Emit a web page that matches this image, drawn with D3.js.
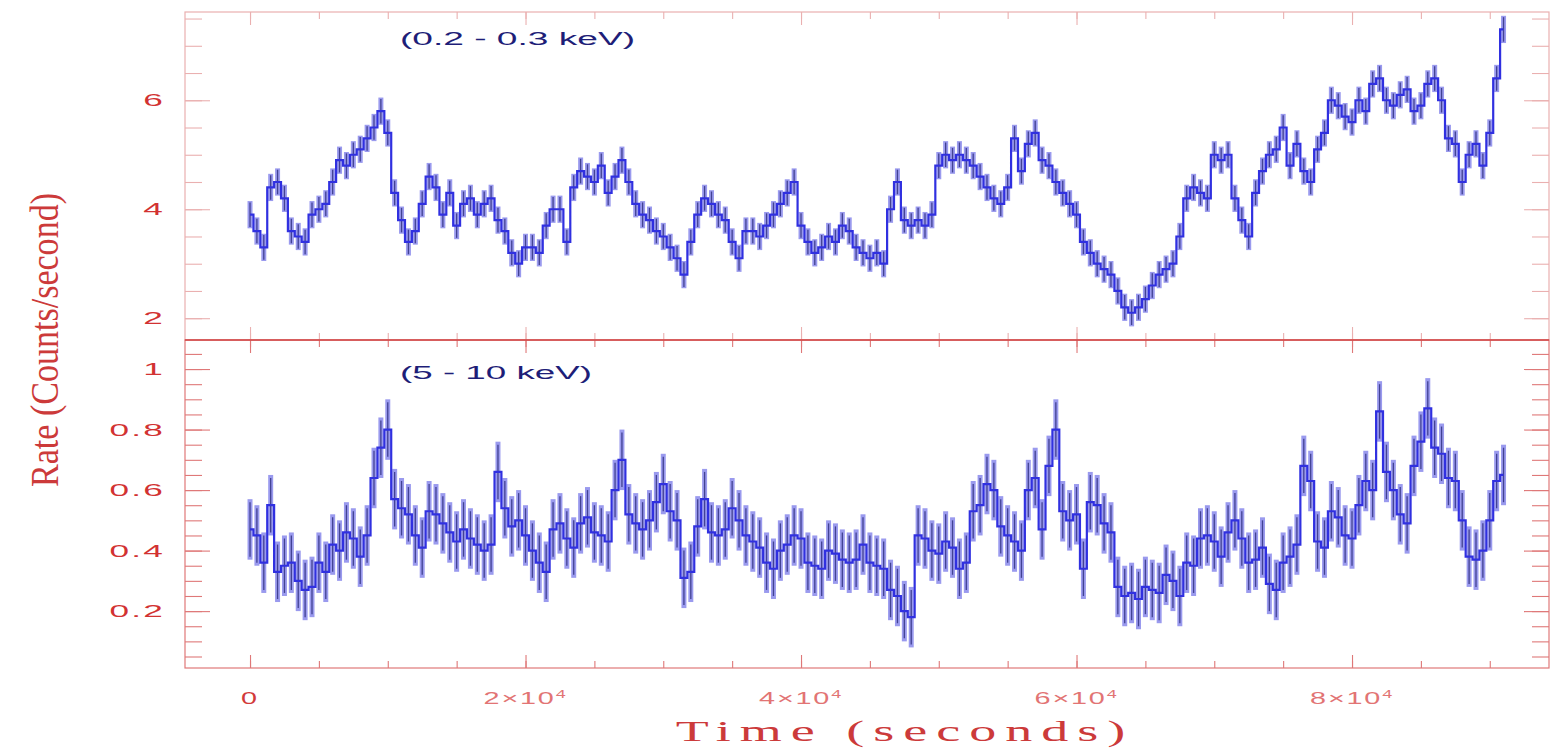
<!DOCTYPE html>
<html lang="en">
<head>
<meta charset="UTF-8">
<script src="https://d3js.org/d3.v7.min.js"></script>
<title>Light curves</title>
<style>
  body { margin: 0; background: #fff; }
  svg { display: block; }
</style>
</head>
<body>
<div id="chart"></div>
<script>
// light curve, 500 s bins starting at t = 0
const binSize = 500;

// (0.2 - 0.3 keV) rate, counts/s
const softRate = [
  3.9,3.6,3.3,4.4,4.5,4.2,3.6,3.5,3.4,3.9,
  4.0,4.1,4.5,4.9,4.8,5.0,5.1,5.3,5.5,5.8,
  5.4,4.3,3.8,3.4,3.6,4.1,4.6,4.4,3.9,4.3,
  3.7,4.1,4.2,3.9,4.1,4.2,3.8,3.6,3.2,3.0,
  3.3,3.3,3.2,3.7,4.0,4.0,3.4,4.4,4.7,4.6,
  4.5,4.8,4.3,4.6,4.9,4.5,4.1,3.9,3.8,3.6,
  3.5,3.3,3.1,2.8,3.4,3.9,4.2,4.1,3.9,3.8,
  3.4,3.1,3.6,3.6,3.5,3.7,3.9,4.1,4.3,4.5,
  3.7,3.4,3.2,3.3,3.5,3.4,3.7,3.6,3.3,3.2,
  3.1,3.2,3.0,4.0,4.5,3.8,3.7,3.8,3.7,3.9,
  4.8,5.0,4.9,5.0,4.9,4.8,4.6,4.4,4.2,4.1,
  4.4,5.3,4.7,5.2,5.4,4.9,4.8,4.5,4.3,4.1,
  3.9,3.4,3.2,3.0,2.9,2.8,2.5,2.2,2.1,2.2,
  2.35,2.6,2.8,2.9,3.0,3.5,4.2,4.4,4.3,4.2,
  5.0,4.9,5.0,4.2,3.8,3.5,4.3,4.7,5.0,5.1,
  5.5,4.8,5.2,4.7,4.5,5.1,5.4,6.0,5.9,5.7,
  5.6,6.0,5.8,6.3,6.4,6.0,5.9,6.1,6.2,5.8,
  5.9,6.3,6.4,6.0,5.3,5.2,4.5,5.0,5.2,4.8,
  5.4,6.4,7.3
];

// (5 - 10 keV) rate, counts/s
const hardRate = [
  0.47,0.45,0.36,0.55,0.33,0.35,0.36,0.30,0.27,0.28,
  0.36,0.33,0.42,0.40,0.46,0.44,0.38,0.45,0.64,0.74,
  0.80,0.57,0.54,0.52,0.45,0.41,0.53,0.52,0.49,0.46,
  0.43,0.47,0.44,0.42,0.40,0.42,0.66,0.54,0.48,0.50,
  0.45,0.40,0.36,0.33,0.47,0.49,0.44,0.41,0.49,0.51,
  0.46,0.45,0.43,0.60,0.70,0.52,0.49,0.47,0.50,0.56,
  0.62,0.53,0.50,0.31,0.33,0.48,0.57,0.46,0.45,0.47,
  0.54,0.50,0.45,0.43,0.41,0.36,0.34,0.40,0.42,0.45,
  0.44,0.36,0.35,0.34,0.40,0.39,0.37,0.36,0.37,0.42,
  0.36,0.35,0.34,0.27,0.25,0.20,0.18,0.45,0.44,0.40,
  0.39,0.43,0.41,0.34,0.36,0.53,0.55,0.62,0.60,0.48,
  0.45,0.43,0.40,0.60,0.64,0.47,0.68,0.80,0.53,0.50,
  0.52,0.34,0.56,0.55,0.49,0.46,0.28,0.25,0.26,0.24,
  0.28,0.27,0.26,0.32,0.30,0.25,0.36,0.35,0.44,0.45,
  0.43,0.38,0.46,0.50,0.44,0.36,0.37,0.41,0.29,0.27,
  0.36,0.38,0.42,0.68,0.63,0.43,0.41,0.53,0.51,0.45,
  0.44,0.55,0.63,0.60,0.86,0.66,0.60,0.52,0.49,0.68,
  0.76,0.87,0.74,0.72,0.64,0.63,0.50,0.38,0.37,0.40,
  0.50,0.63,0.65
];

// typical 1-sigma error of one bin
const softErr = 0.25;
const hardErr = 0.1;

const timeTicks = [0, 20000, 40000, 60000, 80000];
const softTicks = [2, 4, 6];
const hardTicks = [0.2, 0.4, 0.6, 0.8, 1];
const bandLabels = ["(0.2 - 0.3 keV)", "(5 - 10 keV)"];

const W = 1554, H = 748;
const frame = { left: 185, right: 1549, top: 12, mid: 340, bottom: 668 };

const svg = d3.select("#chart").append("svg")
    .attr("width", W)
    .attr("height", H);

const x = d3.scaleLinear().domain([-4720, 94300]).range([frame.left, frame.right]);
const ySoft = d3.scaleLinear().domain([1.6, 7.62]).range([frame.mid, frame.top]);
const yHard = d3.scaleLinear().domain([0.012, 1.096]).range([frame.bottom, frame.mid]);

const panels = [
    { y: ySoft, rates: softRate, err: softErr, major: softTicks,
      minor: d3.range(2, 7.61, 0.5), fmt: d3.format("d"),
      top: frame.top, bottom: frame.mid, stroke: "#eab0b0",
      label: bandLabels[0], labelY: 45, labelW: 235 },
    { y: yHard, rates: hardRate, err: hardErr, major: hardTicks,
      minor: d3.range(0.05, 1.09, 0.05), fmt: d => d === 1 ? "1" : d3.format(".1f")(d),
      top: frame.mid, bottom: frame.bottom, stroke: "#df7878",
      label: bandLabels[1], labelY: 379, labelW: 192 }
];

const xMinor = d3.range(0, 94000, 5000);

panels.forEach((p, k) => {
    const g = svg.append("g");

    const clipId = "clip" + k;
    svg.append("clipPath").attr("id", clipId)
        .append("rect")
        .attr("x", frame.left).attr("y", p.top)
        .attr("width", frame.right - frame.left)
        .attr("height", p.bottom - p.top);

    const pts = p.rates.map((v, i) => ({ t: i * binSize, v: v }));
    const data = g.append("g").attr("clip-path", `url(#${clipId})`);

    // error bars: a wide pale bar and a thin dark core
    data.selectAll(".eb")
        .data(pts)
        .enter()
        .append("line")
        .attr("class", "eb")
        .attr("x1", d => x(d.t)).attr("x2", d => x(d.t))
        .attr("y1", d => p.y(d.v - p.err))
        .attr("y2", d => p.y(d.v + p.err))
        .attr("stroke", "#9a9aee")
        .attr("stroke-width", 5);

    data.selectAll(".ebd")
        .data(pts)
        .enter()
        .append("line")
        .attr("class", "ebd")
        .attr("x1", d => x(d.t)).attr("x2", d => x(d.t))
        .attr("y1", d => p.y(d.v - p.err * 0.9))
        .attr("y2", d => p.y(d.v + p.err * 0.9))
        .attr("stroke", "#1c1c6c")
        .attr("stroke-opacity", 0.7)
        .attr("stroke-width", 1.3);

    // rate as a step line
    const line = d3.line()
        .x(d => x(d.t))
        .y(d => p.y(d.v))
        .curve(d3.curveStep);

    data.append("path")
        .datum(pts)
        .attr("d", line)
        .attr("fill", "none")
        .attr("stroke", "#3030e0")
        .attr("stroke-width", 2.2);

    // frame
    g.append("rect")
        .attr("x", frame.left).attr("y", p.top)
        .attr("width", frame.right - frame.left)
        .attr("height", p.bottom - p.top)
        .attr("fill", "none")
        .attr("stroke", p.stroke)
        .attr("stroke-width", 1.2);

    // ticks, all pointing inward
    const tickAxes = [
        [d3.axisLeft(p.y).tickValues(p.minor).tickSizeInner(-17), `translate(${frame.left},0)`],
        [d3.axisLeft(p.y).tickValues(p.major).tickSizeInner(-25), `translate(${frame.left},0)`],
        [d3.axisRight(p.y).tickValues(p.minor).tickSizeInner(-17), `translate(${frame.right},0)`],
        [d3.axisRight(p.y).tickValues(p.major).tickSizeInner(-25), `translate(${frame.right},0)`],
        [d3.axisBottom(x).tickValues(xMinor).tickSizeInner(-7), `translate(0,${p.bottom})`],
        [d3.axisBottom(x).tickValues(timeTicks).tickSizeInner(-13), `translate(0,${p.bottom})`],
        [d3.axisTop(x).tickValues(xMinor).tickSizeInner(-7), `translate(0,${p.top})`],
        [d3.axisTop(x).tickValues(timeTicks).tickSizeInner(-13), `translate(0,${p.top})`]
    ];
    tickAxes.forEach(([ax, tr]) => {
        const a = g.append("g")
            .attr("transform", tr)
            .call(ax.tickSizeOuter(0).tickFormat(""));
        a.select(".domain").remove();
        a.selectAll("line").attr("stroke", p.stroke).attr("stroke-width", 1.1);
    });

    // y tick labels (horizontally stretched, like the original)
    g.selectAll(".ylab")
        .data(p.major)
        .enter()
        .append("text")
        .attr("class", "ylab")
        .attr("transform", d => `translate(165,${p.y(d) + 6}) scale(2.2,1)`)
        .attr("text-anchor", "end")
        .style("font-family", "'Liberation Sans', Arial, sans-serif")
        .style("font-size", "16px")
        .style("letter-spacing", "1px")
        .attr("fill", "#d23232")
        .text(p.fmt);

    // energy band label
    g.append("text")
        .attr("x", 400)
        .attr("y", p.labelY)
        .attr("textLength", p.labelW)
        .attr("lengthAdjust", "spacingAndGlyphs")
        .style("font-family", "'Liberation Sans', Arial, sans-serif")
        .style("font-size", "18px")
        .attr("fill", "#1e1e78")
        .text(p.label);
});

// middle separator drawn darker
svg.append("line")
    .attr("x1", frame.left).attr("x2", frame.right)
    .attr("y1", frame.mid).attr("y2", frame.mid)
    .attr("stroke", "#d24848")
    .attr("stroke-width", 1.4);

// x tick labels
const xlab = svg.selectAll(".xlab")
    .data(timeTicks)
    .enter()
    .append("text")
    .attr("class", "xlab")
    .attr("transform", d => `translate(${x(d)},704) scale(1.8,1)`)
    .attr("text-anchor", "middle")
    .style("font-family", "'Liberation Sans', Arial, sans-serif")
    .style("font-size", "16px")
    .style("letter-spacing", "1px")
    .attr("fill", d => d === 0 ? "#d23a3a" : "#e27474");

xlab.append("tspan").text(d => d === 0 ? "0" : (d / 1e4) + "×10");
xlab.filter(d => d !== 0)
    .append("tspan")
    .attr("dy", -6)
    .style("font-size", "10px")
    .text("4");

// axis titles
svg.append("text")
    .attr("transform", "translate(905,741) scale(1.8,1)")
    .attr("text-anchor", "middle")
    .style("font-family", "'Liberation Serif', 'Times New Roman', serif")
    .style("font-size", "30px")
    .style("letter-spacing", "5px")
    .attr("fill", "#cc3a3a")
    .text("Time (seconds)");

svg.append("text")
    .attr("transform", "translate(58,340) rotate(-90) scale(1,1.5)")
    .attr("text-anchor", "middle")
    .attr("textLength", 294)
    .attr("lengthAdjust", "spacingAndGlyphs")
    .style("font-family", "'Liberation Serif', 'Times New Roman', serif")
    .style("font-size", "26px")
    .attr("fill", "#cc3a3a")
    .text("Rate (Counts/second)");
</script>
</body>
</html>
